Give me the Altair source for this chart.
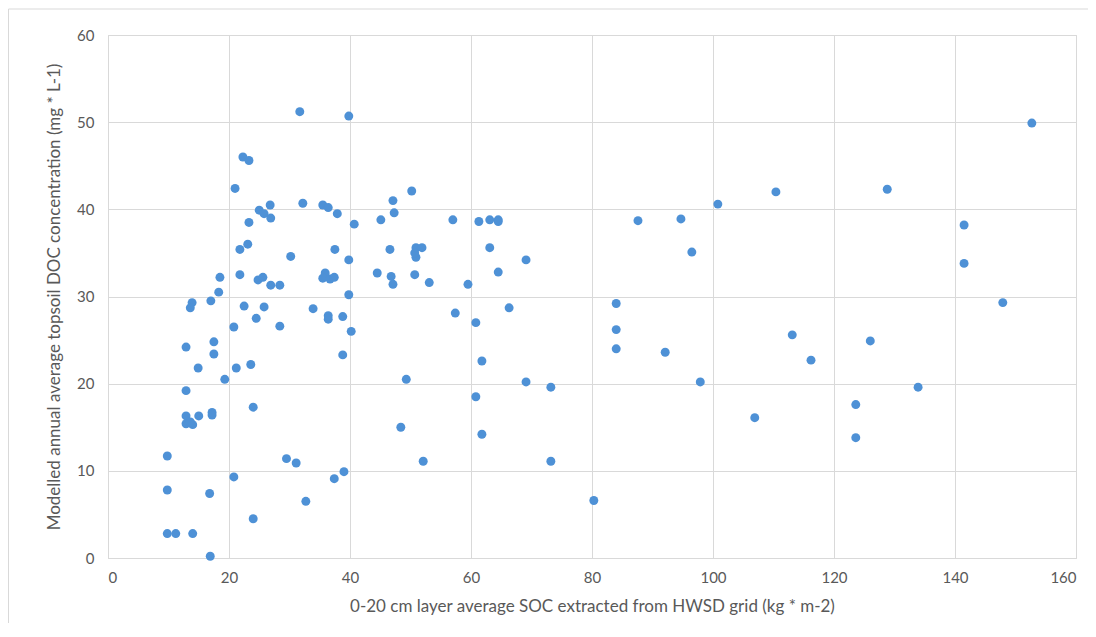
import altair as alt
import pandas as pd

soc = [
    9.8, 9.8, 9.8, 11.2, 14.0, 16.9, 16.8, 20.8, 24.0, 29.5, 31.1, 32.7, 37.4, 39.0,
    12.9, 12.9, 15.0, 17.2, 17.2, 12.9, 14.0, 13.6, 24.0, 19.3, 14.9, 21.2, 23.6, 12.9,
    17.5, 17.5, 20.8, 28.4, 24.5, 22.5, 25.8, 33.9, 36.4, 36.4, 38.8, 40.2, 38.8, 39.8,
    13.9, 13.6, 17.0, 18.3,
    18.5, 21.8, 24.8, 25.6, 26.9, 28.4, 35.9, 35.5, 36.7, 37.4,
    31.7, 39.8, 22.3, 23.3, 21.0, 26.8, 32.2, 35.5, 36.4, 37.9, 40.7, 25.0, 25.8, 26.9,
    23.3, 21.8, 23.1, 30.2, 37.5, 39.8,
    50.2, 47.1, 47.3, 45.1, 57.0, 61.3, 63.1, 64.5, 64.5, 46.6, 50.9, 51.9, 50.9, 50.7,
    63.1, 69.1, 44.5, 46.8, 47.1, 50.7, 53.1, 59.5, 64.5, 57.4, 66.3, 60.8, 61.8, 49.3,
    69.1, 73.2, 60.8, 48.4, 61.8, 52.1, 73.2, 80.3,
    110.4, 128.8, 100.8, 87.6, 94.7, 96.5, 141.5, 141.5, 147.9, 84.0, 84.0, 84.0, 92.1,
    113.1, 126.0, 116.2, 97.9, 133.9, 106.9, 123.6, 123.6, 152.7,
]
doc = [
    11.7, 7.8, 2.8, 2.8, 2.8, 0.2, 7.4, 9.3, 4.5, 11.4, 10.9, 6.5, 9.1, 9.9,
    19.2, 16.3, 16.3, 16.7, 16.4, 15.4, 15.3, 15.6, 17.3, 20.5, 21.8, 21.8, 22.2, 24.2,
    24.8, 23.4, 26.5, 26.6, 27.5, 28.9, 28.8, 28.6, 27.8, 27.4, 27.7, 26.0, 23.3, 30.2,
    29.3, 28.7, 29.5, 30.5,
    32.2, 32.5, 31.9, 32.2, 31.3, 31.3, 32.7, 32.1, 32.0, 32.2,
    51.2, 50.7, 46.0, 45.6, 42.4, 40.5, 40.7, 40.5, 40.2, 39.5, 38.3, 39.9, 39.5, 39.0,
    38.5, 35.4, 36.0, 34.6, 35.4, 34.2,
    42.1, 41.0, 39.6, 38.8, 38.8, 38.6, 38.8, 38.8, 38.6, 35.4, 35.6, 35.6, 34.5, 35.0,
    35.6, 34.2, 32.7, 32.3, 31.4, 32.5, 31.6, 31.4, 32.8, 28.1, 28.7, 27.0, 22.6, 20.5,
    20.2, 19.6, 18.5, 15.0, 14.2, 11.1, 11.1, 6.6,
    42.0, 42.3, 40.6, 38.7, 38.9, 35.1, 38.2, 33.8, 29.3, 29.2, 26.2, 24.0, 23.6,
    25.6, 24.9, 22.7, 20.2, 19.6, 16.1, 17.6, 13.8, 49.9,
]

x_ticks = [0, 20, 40, 60, 80, 100, 120, 140, 160]
y_ticks = [0, 10, 20, 30, 40, 50, 60]

x_title = "0-20 cm layer average SOC extracted from HWSD grid (kg * m-2)"
y_title = "Modelled annual average topsoil  DOC concentration (mg * L-1)"

df = pd.DataFrame({"soc": soc, "doc": doc})

FONT = "Lato, 'Open Sans', sans-serif"

points = alt.Chart(df).mark_circle(size=80, opacity=1, color="#4E91D6").encode(
    x=alt.X("soc:Q", title=x_title,
            scale=alt.Scale(domain=[0, 160], nice=False),
            axis=alt.Axis(values=x_ticks, labelPadding=12, titlePadding=13)),
    y=alt.Y("doc:Q", title=y_title,
            scale=alt.Scale(domain=[0, 60], nice=False),
            axis=alt.Axis(values=y_ticks, labelPadding=14, titlePadding=13, domain=False)),
)

border = alt.Chart(pd.DataFrame({"a": [0]})).mark_rect(
    fill="transparent", stroke="#d9d9d9", strokeWidth=1
).encode(
    x=alt.value(-99.5), x2=alt.value(1000), y=alt.value(-26), y2=alt.value(700)
)

chart = alt.layer(border, points).properties(
    width=968, height=523,
    autosize=alt.AutoSizeParams(type="none"),
    padding={"left": 100, "top": 27, "right": 12, "bottom": 65},
    background="white",
).configure_view(
    stroke="#d9d9d9"
).configure_axis(
    grid=True, gridColor="#d9d9d9", gridWidth=1,
    ticks=False, domainColor="#d9d9d9",
    labelFont=FONT, labelFontSize=15, labelColor="#595959",
    titleFont=FONT, titleFontSize=17, titleColor="#595959", titleFontWeight="normal",
)

chart.save("out.html", embed_options={"renderer": "svg", "actions": False})
